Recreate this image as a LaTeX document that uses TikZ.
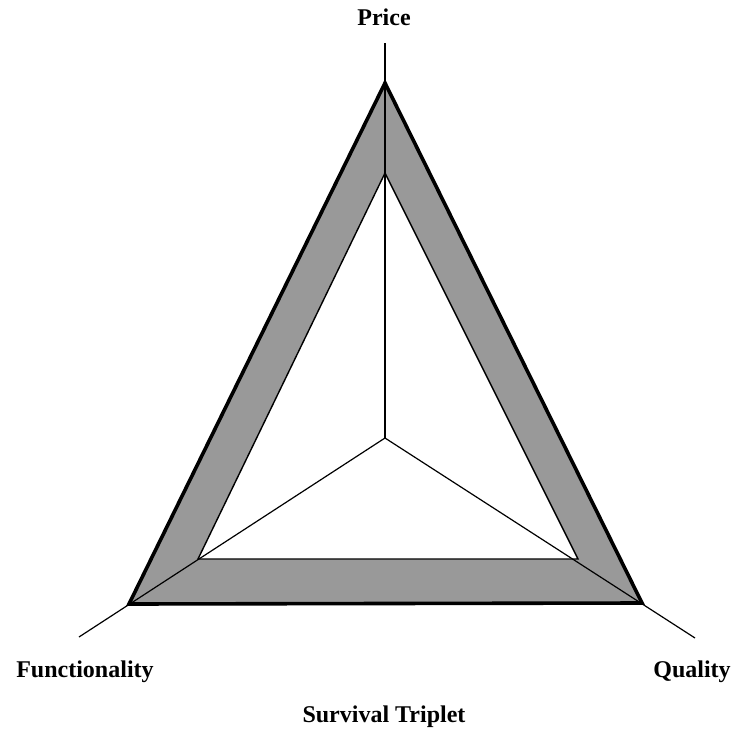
\documentclass[tikz,border=0pt]{standalone}
\usepackage{fontspec}
\setmainfont{Liberation Serif}
\usetikzlibrary{positioning}
\tikzset{
    band/.style={fill=black!40, draw=black, line width=3.6pt, line join=miter},
    hole/.style={fill=white, draw=black, line width=1.4pt, line join=miter},
    axis/.style={draw=black, line width=1.2pt},
    axislabel/.style={font=\fontsize{24}{28}\selectfont\bfseries, inner sep=0pt, anchor=base}
}
\begin{document}
\begin{tikzpicture}[x=1pt, y=-1pt]
    \useasboundingbox (0,0) rectangle (732,729);
    % centre and axis ends
    \coordinate (o) at (385,438);
    \coordinate (endP) at (385,43);
    \coordinate (endF) at (79,637);
    \coordinate (endQ) at (695,638);
    % outer triangle
    \coordinate (outP) at (385,83);
    \coordinate (outF) at (129,604);
    \coordinate (outQ) at (642,603);
    % inner triangle
    \coordinate (inP) at (385,173);
    \coordinate (inF) at (198,559);
    \coordinate (inQ) at (578,559);
    \draw[band] (outP) -- (outQ) -- (outF) -- cycle;
    \draw[hole] (inP) -- (inQ) -- (inF) -- cycle;
    \draw[axis] (o) -- (endP);
    \draw[axis] (o) -- (endF);
    \draw[axis] (o) -- (endQ);
    \node[axislabel] (price) at (384,25) {Price};
    \node[axislabel] (func) at (85,677) {Functionality};
    \node[axislabel] (qual) at (692,677) {Quality};
    \node[axislabel] (title) at (384,722) {Survival Triplet};
\end{tikzpicture}
\end{document}
